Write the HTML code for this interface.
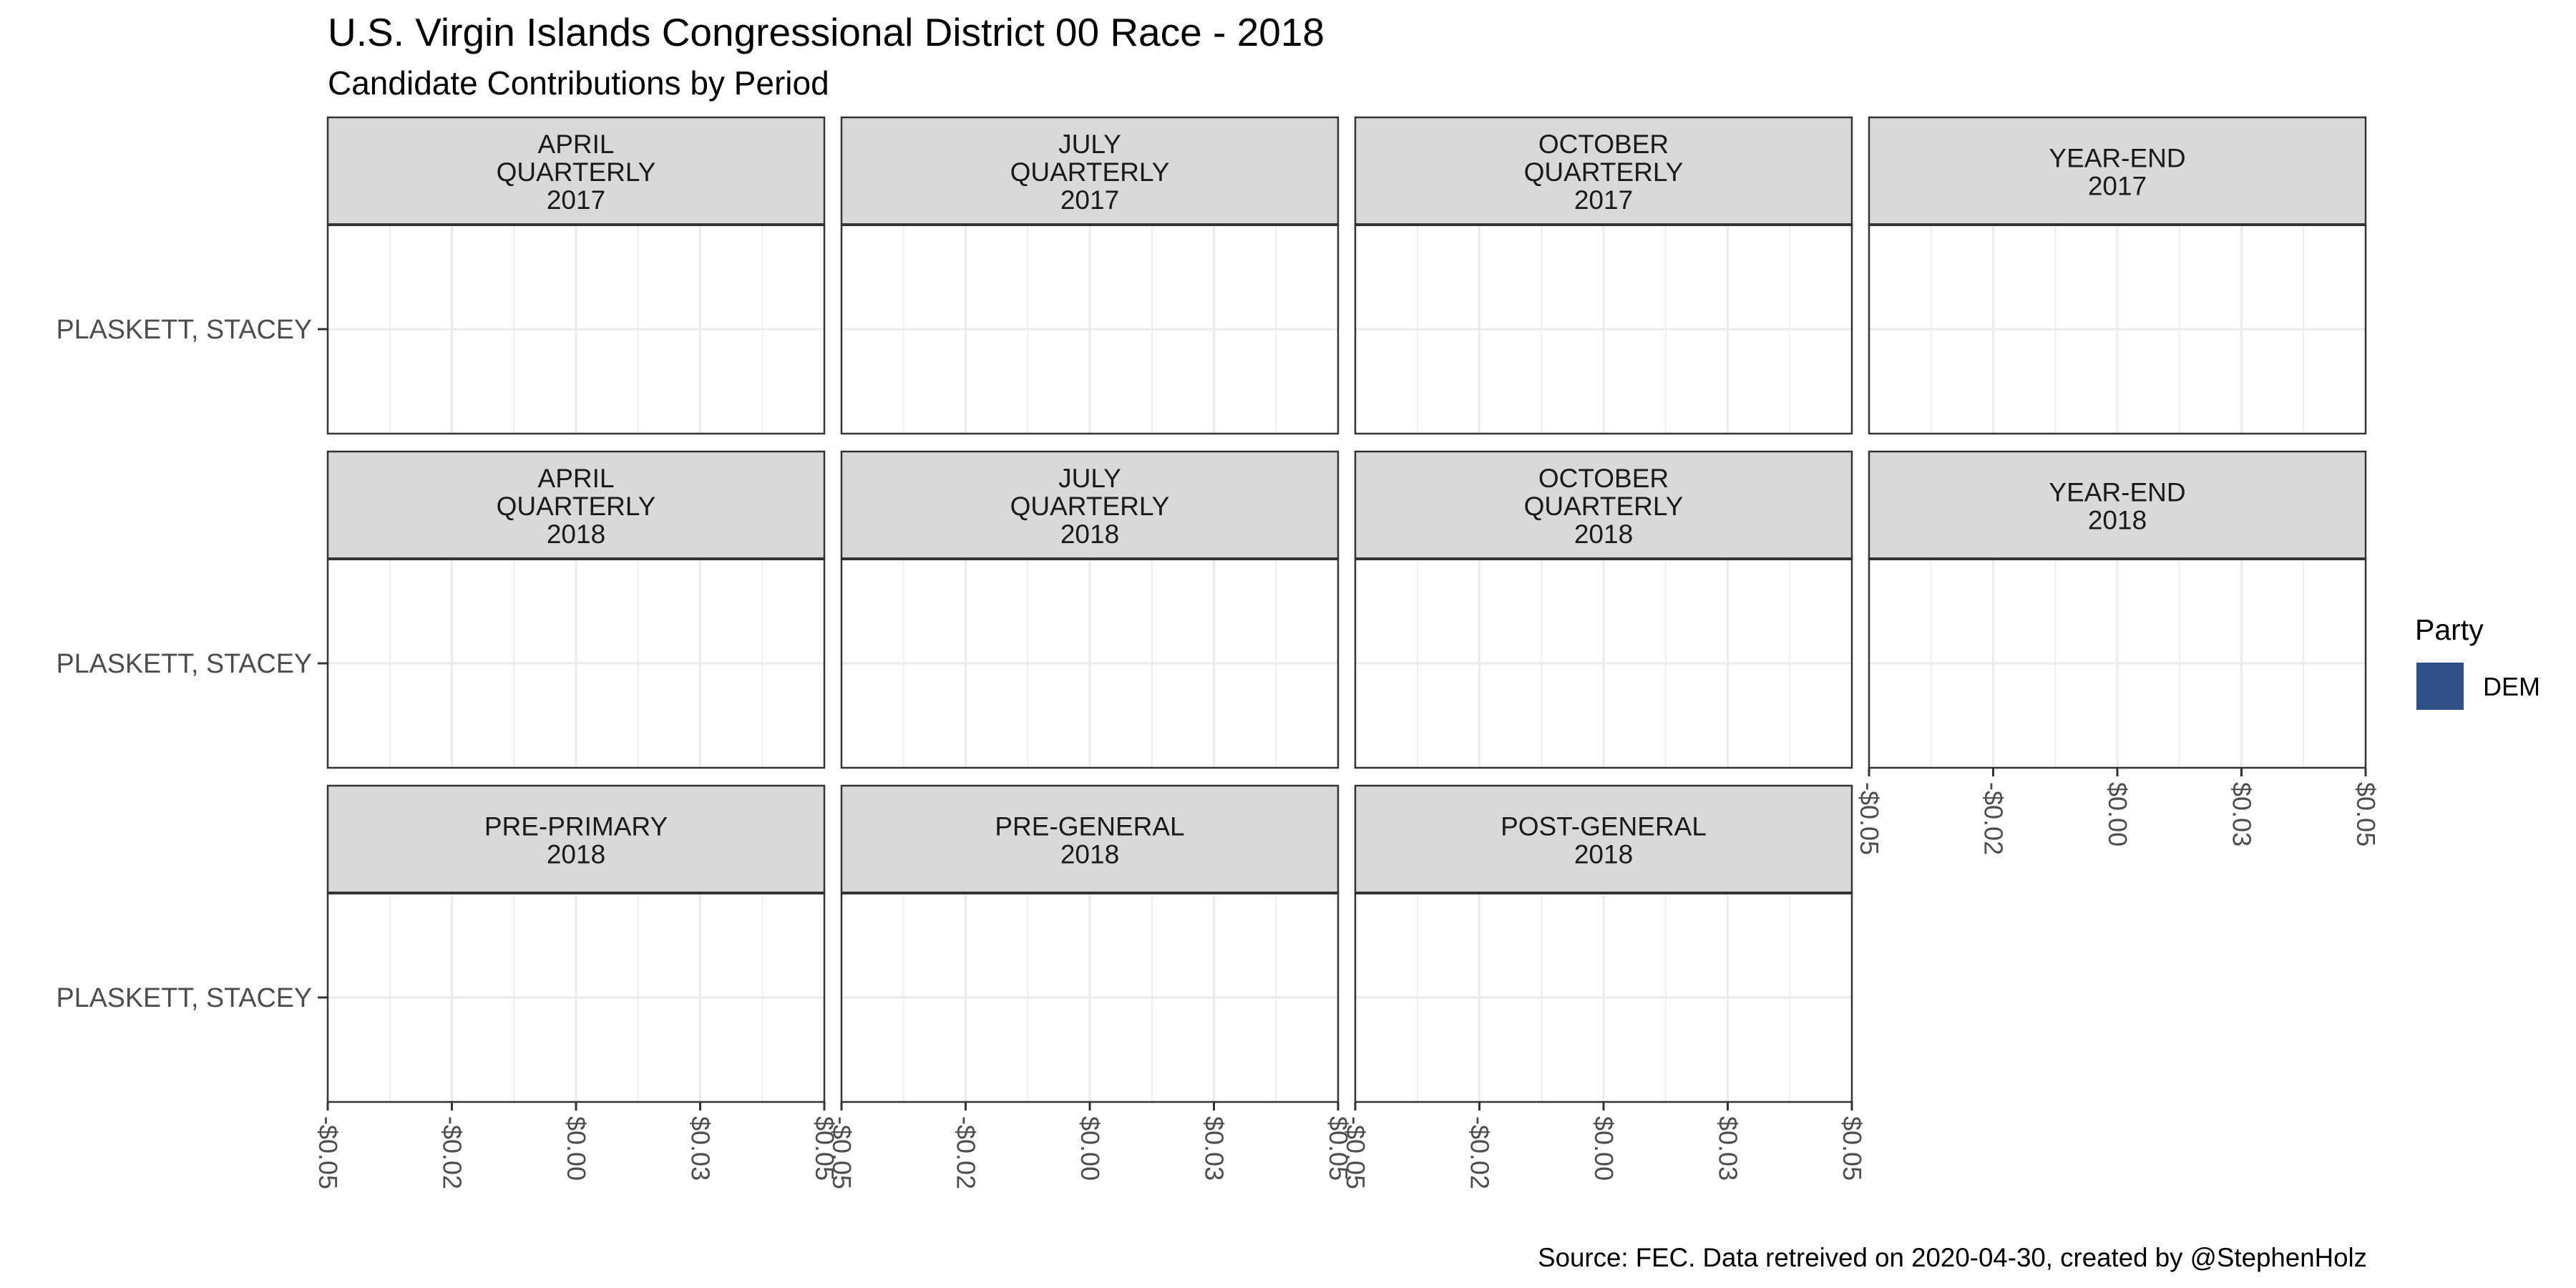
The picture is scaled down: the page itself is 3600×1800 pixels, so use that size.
<!DOCTYPE html>
<html><head><meta charset="utf-8"><style>
html,body{margin:0;padding:0;background:#fff;}
svg{display:block;font-family:"Liberation Sans",Arial,sans-serif;}
</style></head><body>
<svg width="3600" height="1800" viewBox="0 0 3600 1800" xmlns="http://www.w3.org/2000/svg">
<rect width="3600" height="1800" fill="#fff"/>
<text x="458" y="64" font-size="55" fill="#000">U.S. Virgin Islands Congressional District 00 Race - 2018</text>
<text x="458" y="132" font-size="46" fill="#000">Candidate Contributions by Period</text>
<g id="panels"></g>
<text x="3375" y="894" font-size="41" fill="#000">Party</text>
<rect x="3377" y="926" width="66" height="66" fill="#2E5086"/>
<text x="3470" y="972" font-size="36" fill="#000">DEM</text>
<text x="3308" y="1770" font-size="36.7" fill="#000" text-anchor="end">Source: FEC. Data retreived on 2020-04-30, created by @StephenHolz</text>
</svg>
<script>
const NS="http://www.w3.org/2000/svg";
const g=document.getElementById('panels');
function el(n,a,t){const e=document.createElementNS(NS,n);for(const k in a)e.setAttribute(k,a[k]);if(t!==undefined)e.textContent=t;g.appendChild(e);return e;}
const cols=[458,1176,1894,2612],W=694,rowsY=[164,631,1098],SH=150,PH=292;
const labels=[
[["APRIL","QUARTERLY","2017"],["JULY","QUARTERLY","2017"],["OCTOBER","QUARTERLY","2017"],["YEAR-END","2017"]],
[["APRIL","QUARTERLY","2018"],["JULY","QUARTERLY","2018"],["OCTOBER","QUARTERLY","2018"],["YEAR-END","2018"]],
[["PRE-PRIMARY","2018"],["PRE-GENERAL","2018"],["POST-GENERAL","2018"]]];
const ticks=["-$0.05","-$0.02","$0.00","$0.03","$0.05"];
for(let r=0;r<3;r++){
 const st=rowsY[r],pt=st+SH,pb=pt+PH,cy=pt+PH/2;
 el('text',{x:436,y:cy+13,'font-size':37.7,fill:'#4D4D4D','text-anchor':'end'},'PLASKETT, STACEY');
 el('line',{x1:444,x2:458,y1:cy,y2:cy,stroke:'#333','stroke-width':3});
 labels[r].forEach((lab,c)=>{
  const x=cols[c];
  el('rect',{x:x,y:st,width:W,height:SH,fill:'#D9D9D9',stroke:'#333','stroke-width':2.5});
  const n=lab.length,start=st+SH/2-(n-1)*39/2+14;
  lab.forEach((t,i)=>el('text',{x:x+W/2,y:start+i*39,'font-size':37,fill:'#1A1A1A','text-anchor':'middle'},t));
  for(let k=1;k<8;k++){const gx=x+W*k/8;el('line',{x1:gx,x2:gx,y1:pt,y2:pb,stroke:'#EBEBEB','stroke-width':k%2?1.5:3});}
  el('line',{x1:x,x2:x+W,y1:cy,y2:cy,stroke:'#EBEBEB','stroke-width':3});
  el('rect',{x:x,y:pt,width:W,height:PH,fill:'none',stroke:'#333','stroke-width':2.5});
  el('line',{x1:x,x2:x+W,y1:st+SH,y2:st+SH,stroke:'#333','stroke-width':4});
  if(r==2||(r==1&&c==3)){
   for(let k=0;k<5;k++){const tx=x+W*k/4;
    el('line',{x1:tx,x2:tx,y1:pb,y2:pb+12,stroke:'#333','stroke-width':3});
    el('text',{transform:`translate(${tx-12},${pb+20}) rotate(90)`,'font-size':36,fill:'#4D4D4D'},ticks[k]);
   }
  }
 });
}
</script>
</body></html>
